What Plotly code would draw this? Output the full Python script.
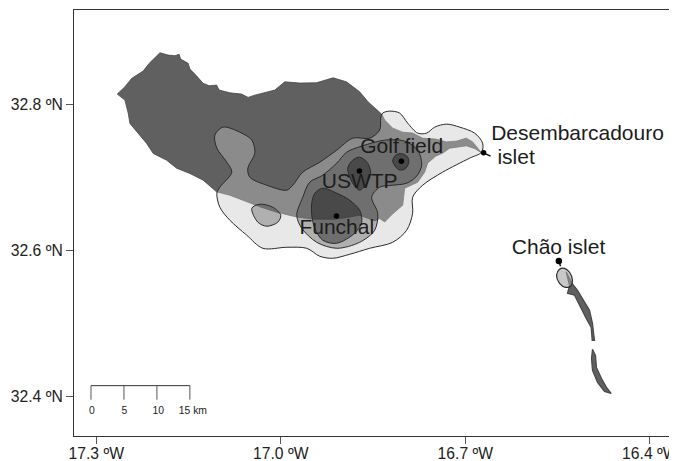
import plotly.graph_objects as go

FONT = "Liberation Sans"

madeira_lon = [-17.2659,-17.2534,-17.2425,-17.2237,-17.2139,-17.2047,-17.1965,-17.1830,-17.1722,-17.1652,-17.1629,-17.1506,-17.1478,-17.1381,-17.1262,-17.1164,-17.1044,-17.1002,-17.0828,-17.0638,-17.0531,-17.0422,-17.0292,-17.0097,-16.9935,-16.9691,-16.9420,-16.9150,-16.8933,-16.8717,-16.8582,-16.8419,-16.8359,-16.8310,-16.8180,-16.8018,-16.7856,-16.7693,-16.7482,-16.7308,-16.7146,-16.6983,-16.6881,-16.6740,-16.6848,-16.6983,-16.7255,-16.7368,-16.7482,-16.7612,-16.7661,-16.7774,-16.7986,-16.8018,-16.8176,-16.8310,-16.8392,-16.8473,-16.8717,-16.9095,-16.9480,-16.9745,-17.0070,-17.0341,-17.0612,-17.0828,-17.1044,-17.1262,-17.1478,-17.1694,-17.1856,-17.2074,-17.2181,-17.2318,-17.2453,-17.2480,-17.2534]
madeira_lat = [32.8137,32.8237,32.8352,32.8452,32.8558,32.8634,32.8703,32.8671,32.8662,32.8681,32.8617,32.8558,32.8480,32.8397,32.8284,32.8251,32.8260,32.8192,32.8155,32.8137,32.8092,32.8123,32.8151,32.8192,32.8305,32.8288,32.8292,32.8360,32.8305,32.8168,32.8032,32.7918,32.7863,32.7781,32.7671,32.7616,32.7603,32.7534,32.7521,32.7483,32.7493,32.7534,32.7483,32.7336,32.7393,32.7429,32.7397,32.7329,32.7288,32.7192,32.7069,32.6932,32.6849,32.6616,32.6503,32.6388,32.6434,32.6401,32.6479,32.6425,32.6425,32.6456,32.6521,32.6596,32.6685,32.6753,32.6799,32.6959,32.7051,32.7123,32.7233,32.7325,32.7462,32.7599,32.7736,32.7873,32.8055]

deserta_lon = [-16.5359,-16.5261,-16.5175,-16.5094,-16.4980,-16.4932,-16.4899,-16.4937,-16.4953,-16.5034,-16.5143,-16.5224,-16.5338,-16.5305,-16.5338]
deserta_lat = [32.5703,32.5544,32.5452,32.5342,32.5178,32.5000,32.4767,32.4767,32.4945,32.5068,32.5247,32.5384,32.5411,32.5520,32.5630]
bugio_lon = [-16.4932,-16.4883,-16.4867,-16.4785,-16.4704,-16.4628,-16.4737,-16.4850,-16.4932,-16.4948]
bugio_lat = [32.4644,32.4561,32.4397,32.4246,32.4123,32.4041,32.4068,32.4192,32.4356,32.4520]

outer_lon = [-16.8343,-16.8229,-16.8067,-16.7937,-16.7774,-16.7628,-16.7498,-16.7303,-16.7092,-16.6848,-16.6718,-16.6735,-16.6930,-16.7368,-16.7693,-16.7856,-16.7856,-16.7953,-16.8180,-16.8554,-16.8879,-16.9155,-16.9366,-16.9577,-16.9902,-17.0292,-17.0552,-17.0828,-17.0991,-17.1039,-17.0991,-17.0796,-17.0877,-17.1039,-17.1072,-17.0942,-17.0666,-17.0471,-17.0422,-17.0536,-17.0503,-17.0227,-16.9902,-16.9805,-16.9642,-16.9366,-16.9090,-16.8830,-16.8554,-16.8392,-16.8375,-16.8343]
outer_lat = [32.7877,32.7904,32.7877,32.7740,32.7603,32.7603,32.7685,32.7726,32.7685,32.7603,32.7466,32.7342,32.7260,32.7069,32.6890,32.6726,32.6507,32.6274,32.6109,32.6027,32.5945,32.5890,32.5918,32.6027,32.6041,32.6027,32.6205,32.6411,32.6589,32.6781,32.6863,32.7069,32.7205,32.7397,32.7575,32.7685,32.7616,32.7507,32.7329,32.7123,32.7000,32.6890,32.6822,32.6890,32.7069,32.7205,32.7370,32.7534,32.7534,32.7644,32.7808,32.7877]

middle_lon = [-16.9740,-16.9642,-16.9529,-16.9318,-16.9090,-16.8928,-16.8684,-16.8310,-16.7986,-16.7774,-16.7709,-16.7791,-16.7953,-16.8180,-16.8392,-16.8522,-16.8424,-16.8473,-16.8717,-16.9090,-16.9415,-16.9659,-16.9740]
middle_lat = [32.6479,32.6726,32.6932,32.7027,32.7192,32.7342,32.7425,32.7507,32.7493,32.7370,32.7164,32.7014,32.6918,32.6890,32.6863,32.6726,32.6507,32.6274,32.6109,32.6027,32.6109,32.6301,32.6479]

blob_lon = [-17.0471,-17.0341,-17.0130,-17.0000,-17.0049,-17.0227,-17.0373,-17.0471]
blob_lat = [32.6575,32.6630,32.6589,32.6479,32.6384,32.6329,32.6384,32.6575]

chao_lon = [-16.5516,-16.5468,-16.5386,-16.5305,-16.5257,-16.5289,-16.5370,-16.5468,-16.5516]
chao_lat = [32.5658,32.5740,32.5753,32.5699,32.5589,32.5507,32.5493,32.5548,32.5658]

funchal_lon = [-16.9496,-16.9447,-16.9318,-16.9090,-16.8879,-16.8717,-16.8684,-16.8798,-16.9090,-16.9318,-16.9447,-16.9496,-16.9496]
funchal_lat = [32.6644,32.6781,32.6849,32.6781,32.6685,32.6548,32.6384,32.6233,32.6096,32.6137,32.6301,32.6479,32.6644]
uswtp_lon = [-16.8911,-16.8830,-16.8717,-16.8587,-16.8538,-16.8603,-16.8717,-16.8830,-16.8911]
uswtp_lat = [32.7123,32.7233,32.7274,32.7192,32.7055,32.6918,32.6822,32.6918,32.7123]
golf_lon = [-16.8180,-16.8132,-16.8034,-16.7937,-16.7921,-16.7986,-16.8083,-16.8180]
golf_lat = [32.7219,32.7301,32.7322,32.7274,32.7192,32.7110,32.7103,32.7219]

site_lon = [-16.9095,-16.8721,-16.8039,-16.6702]
site_lat = [32.6470,32.7086,32.7219,32.7333]
chao_site_lon = [-16.5479]
chao_site_lat = [32.5853]
desem_tail_lon = [-16.6702,-16.6589]
desem_tail_lat = [32.7333,32.7288]
chao_tail_lon = [-16.5479,-16.5451]
chao_tail_lat = [32.5853,32.5781]

place_names = ["Desembarcadouro","islet","Funchal","USWTP","Golf field","Chão islet"]
place_lon = [-16.5175,-16.6174,-16.9090,-16.8717,-16.8034,-16.5484]
place_lat = [32.7575,32.7247,32.6301,32.6918,32.7397,32.6027]

scale_km = [0,5,10,15]
scale_start_lon = -17.3086
deg_per_km = 0.01072
scale_top_lat = 32.4147
scale_tick_lat = 32.3955
scale_labels = ["0","5","10","15 km"]
scale_label_lon = [-17.3070,-17.2542,-17.1990,-17.1429]
scale_label_lat = 32.3795

x_ticks = [-17.3,-17.0,-16.7,-16.4]
x_labels = ["17.3 ºW","17.0 ºW","16.7 ºW","16.4 ºW"]
y_ticks = [32.4,32.6,32.8]
y_labels = ["32.4 ºN","32.6 ºN","32.8 ºN"]

LAND = "#606060"
COAST = "#484848"
LEVEL1 = "rgba(200,200,200,0.42)"
LEVEL2 = "rgba(48,48,48,0.30)"
LEVEL3 = "rgba(25,25,25,0.44)"
CHAO = "rgba(160,160,160,0.58)"

fig = go.Figure()

def area(lon, lat, fill, line="#2a2a2a", width=1.0, spline=False):
    shape = dict(color=line, width=width)
    if spline:
        shape.update(shape="spline", smoothing=0.9)
    fig.add_trace(go.Scatter(x=lon, y=lat, mode="lines", fill="toself", fillcolor=fill,
                             line=shape, hoverinfo="skip", showlegend=False))

area(madeira_lon + madeira_lon[:1], madeira_lat + madeira_lat[:1], LAND, COAST, 0.8)
area(deserta_lon + deserta_lon[:1], deserta_lat + deserta_lat[:1], LAND, COAST, 1.2)
area(bugio_lon + bugio_lon[:1], bugio_lat + bugio_lat[:1], LAND, COAST, 1.2)

area(outer_lon, outer_lat, LEVEL1, spline=True)
area(chao_lon, chao_lat, CHAO, width=1.2, spline=True)
area(middle_lon, middle_lat, LEVEL2, spline=True)
area(blob_lon, blob_lat, LEVEL2, spline=True)
area(funchal_lon, funchal_lat, LEVEL3, spline=True)
area(uswtp_lon, uswtp_lat, LEVEL3, spline=True)
area(golf_lon, golf_lat, LEVEL3, spline=True)

for lon, lat in ((desem_tail_lon, desem_tail_lat), (chao_tail_lon, chao_tail_lat)):
    fig.add_trace(go.Scatter(x=lon, y=lat, mode="lines", line=dict(color="#111111", width=1.4),
                             hoverinfo="skip", showlegend=False))

fig.add_trace(go.Scatter(x=site_lon, y=site_lat, mode="markers",
                         marker=dict(color="#000000", size=5.5), hoverinfo="skip", showlegend=False))
fig.add_trace(go.Scatter(x=chao_site_lon, y=chao_site_lat, mode="markers",
                         marker=dict(color="#000000", size=6.5), hoverinfo="skip", showlegend=False))

fig.add_trace(go.Scatter(x=place_lon, y=place_lat, mode="text", text=place_names,
                         textposition="middle center",
                         textfont=dict(family=FONT, size=21, color="#1c1c1c"),
                         hoverinfo="skip", showlegend=False))

# scale bar
scale_lon = [scale_start_lon + k * deg_per_km for k in scale_km]
fig.add_trace(go.Scatter(x=scale_lon, y=[scale_top_lat] * len(scale_lon), mode="lines",
                         line=dict(color="#333333", width=1), hoverinfo="skip", showlegend=False))
for lon in scale_lon:
    fig.add_trace(go.Scatter(x=[lon, lon], y=[scale_top_lat, scale_tick_lat], mode="lines",
                             line=dict(color="#555555", width=1), hoverinfo="skip", showlegend=False))
fig.add_trace(go.Scatter(x=scale_label_lon, y=[scale_label_lat] * 4, mode="text", text=scale_labels,
                         textposition="middle center",
                         textfont=dict(family=FONT, size=10.4, color="#222222"),
                         hoverinfo="skip", showlegend=False))

axis = dict(showgrid=False, zeroline=False, ticks="outside", ticklen=7, tickwidth=1, automargin=False,
            tickcolor="#555555", showline=True, mirror=True, linecolor="#333333", linewidth=1.2,
            ticklabeloverflow="allow",
            tickfont=dict(family=FONT, size=15.7, color="#222222"))

# the page body adds an 8 px offset, so the figure is 8 px smaller than the window
fig.update_layout(
    width=669, height=453, autosize=False,
    margin=dict(l=66, r=4.5, t=2, b=25.4, autoexpand=False),
    paper_bgcolor="white", plot_bgcolor="white", showlegend=False,
    xaxis=dict(axis, range=[-17.3362, -16.3639], tickvals=x_ticks, ticktext=x_labels, tickangle=0,
               ticklabelstandoff=-4),
    yaxis=dict(axis, range=[32.3458, 32.9288], tickvals=y_ticks, ticktext=y_labels),
)
fig.write_html("out.html", include_plotlyjs=True, config={"displayModeBar": False})
